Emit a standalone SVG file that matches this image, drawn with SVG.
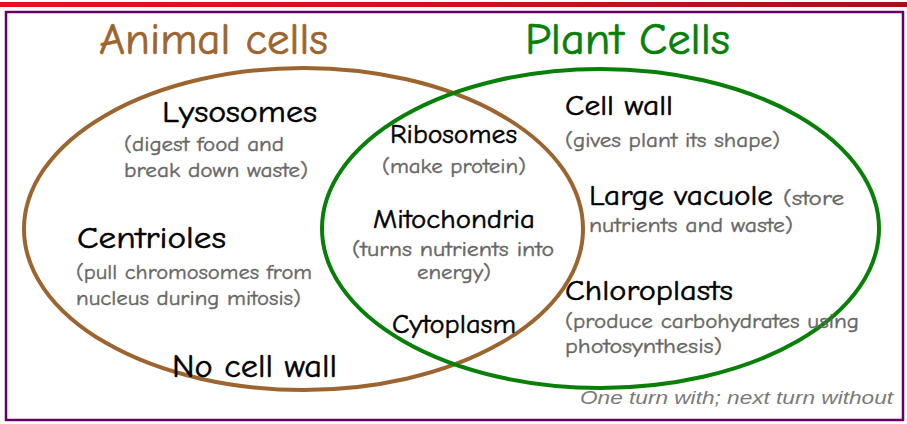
<svg xmlns="http://www.w3.org/2000/svg" width="907" height="424" viewBox="0 0 907 424">
<defs>
<linearGradient id="bar" x1="0" y1="0" x2="1" y2="0">
<stop offset="0" stop-color="#e8101f"/>
<stop offset="0.5" stop-color="#d40f1c"/>
<stop offset="1" stop-color="#a80f1a"/>
</linearGradient>
<style>
.c{font-family:"Comic Sans MS","Comic Neue","DejaVu Sans",sans-serif;}
.h{fill:#000;stroke:#000;stroke-width:0.5px;}
.s{fill:#666;stroke:#666;stroke-width:0.4px;font-size:21px;}
.t{font-size:45px;stroke-width:0.7px;}
.foot{font-family:"Liberation Sans","DejaVu Sans",sans-serif;font-style:italic;font-size:19px;fill:#7a7a7a;}
</style>
</defs>
<rect x="0" y="2" width="907" height="5" fill="url(#bar)"/>
<rect x="6" y="12" width="897" height="408" fill="#fff" stroke="#660066" stroke-width="2.5"/>
<g id="animal-cells">
<ellipse cx="303.5" cy="229" rx="279.5" ry="161" fill="none" stroke="#9c6530" stroke-width="4"/>
<text class="c t" x="99" y="54" fill="#9c6530" stroke="#9c6530" textLength="229" lengthAdjust="spacingAndGlyphs">Animal cells</text>
</g>
<g id="plant-cells">
<ellipse cx="600.5" cy="228.5" rx="278.5" ry="159.5" fill="none" stroke="#088008" stroke-width="4"/>
<text class="c t" x="525" y="54" fill="#088008" stroke="#088008" textLength="205" lengthAdjust="spacingAndGlyphs">Plant Cells</text>
</g>
<g id="lysosomes" class="c">
<text class="h" x="162" y="122" font-size="31" textLength="155" lengthAdjust="spacingAndGlyphs">Lysosomes</text>
<text class="s" x="124" y="151" textLength="160" lengthAdjust="spacingAndGlyphs">(digest food and</text>
<text class="s" x="124" y="177" textLength="184" lengthAdjust="spacingAndGlyphs">break down waste)</text>
</g>
<g id="centrioles" class="c">
<text class="h" x="77" y="248" font-size="30" textLength="149" lengthAdjust="spacingAndGlyphs">Centrioles</text>
<text class="s" x="76" y="279" textLength="236" lengthAdjust="spacingAndGlyphs">(pull chromosomes from</text>
<text class="s" x="76" y="305" textLength="225" lengthAdjust="spacingAndGlyphs">nucleus during mitosis)</text>
</g>
<g id="no-cell-wall" class="c">
<text class="h" x="172" y="377" font-size="32" textLength="165" lengthAdjust="spacingAndGlyphs">No cell wall</text>
</g>
<g id="ribosomes" class="c">
<text class="h" x="390" y="143" font-size="26" textLength="127" lengthAdjust="spacingAndGlyphs">Ribosomes</text>
<text class="s" x="382" y="173" style="font-size:20px" textLength="144" lengthAdjust="spacingAndGlyphs">(make protein)</text>
</g>
<g id="mitochondria" class="c">
<text class="h" x="373" y="228" font-size="27" textLength="162" lengthAdjust="spacingAndGlyphs">Mitochondria</text>
<text class="s" x="352" y="256" style="font-size:20px" textLength="202" lengthAdjust="spacingAndGlyphs">(turns nutrients into</text>
<text class="s" x="417" y="279" style="font-size:20px" textLength="74" lengthAdjust="spacingAndGlyphs">energy)</text>
</g>
<g id="cytoplasm" class="c">
<text class="h" x="392" y="333" font-size="27" textLength="124" lengthAdjust="spacingAndGlyphs">Cytoplasm</text>
</g>
<g id="cell-wall" class="c">
<text class="h" x="565" y="115" font-size="28" textLength="108" lengthAdjust="spacingAndGlyphs">Cell wall</text>
<text class="s" x="565" y="147" textLength="215" lengthAdjust="spacingAndGlyphs">(gives plant its shape)</text>
</g>
<g id="large-vacuole" class="c">
<text class="h" x="589" y="205" font-size="28" textLength="184" lengthAdjust="spacingAndGlyphs">Large vacuole</text>
<text class="s" x="783" y="205" textLength="61" lengthAdjust="spacingAndGlyphs">(store</text>
<text class="s" x="589" y="232" textLength="204" lengthAdjust="spacingAndGlyphs">nutrients and waste)</text>
</g>
<g id="chloroplasts" class="c">
<text class="h" x="565" y="300" font-size="28" textLength="168" lengthAdjust="spacingAndGlyphs">Chloroplasts</text>
<text class="s" x="565" y="328" textLength="294" lengthAdjust="spacingAndGlyphs">(produce carbohydrates using</text>
<text class="s" x="565" y="353" textLength="157" lengthAdjust="spacingAndGlyphs">photosynthesis)</text>
</g>
<g id="footer">
<text class="foot" x="580" y="404" textLength="313" lengthAdjust="spacingAndGlyphs">One turn with; next turn without</text>
</g>
</svg>
